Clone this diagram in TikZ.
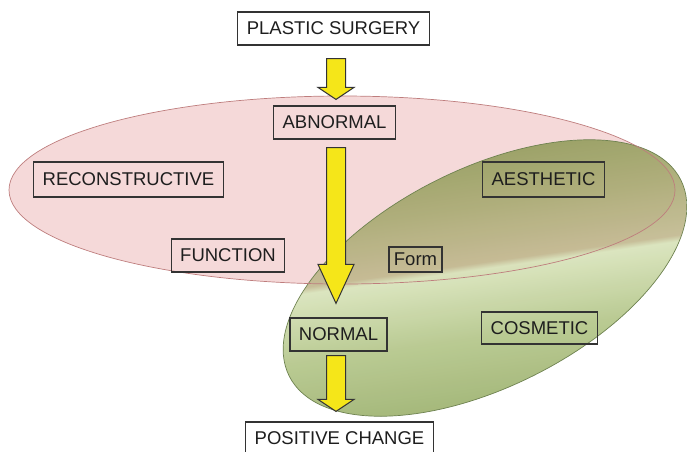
\documentclass[tikz,border=0pt]{standalone}
\usepackage{fontspec}
\setmainfont{Liberation Sans}
\usetikzlibrary{calc}
\definecolor{cink}{HTML}{1E1E1E}
\definecolor{cframe}{HTML}{333333}
\definecolor{cyellow}{HTML}{F5E619}
\definecolor{cpink}{HTML}{F5D9D9}
\definecolor{cpinklight}{HTML}{FBEFEF}
\definecolor{cpinkline}{HTML}{BE7D7D}
\definecolor{cgreentop}{HTML}{8D9957}
\definecolor{cgreenolive}{HTML}{A8AA72}
\definecolor{cgreentan}{HTML}{C2B990}
\definecolor{cgreenmid}{HTML}{D8E3BA}
\definecolor{cgreenlow}{HTML}{B4C68A}
\definecolor{cgreenbot}{HTML}{92A862}
\definecolor{cgreenline}{HTML}{6E8250}
\pgfdeclareverticalshading{greenbowl}{100bp}{color(0bp)=(cgreenbot); color(25bp)=(cgreenbot); color(41bp)=(cgreenlow); color(51.5bp)=(cgreenmid); color(52.5bp)=(cgreentan); color(62bp)=(cgreenolive); color(73bp)=(cgreentop); color(100bp)=(cgreentop)}
\tikzset{
  every picture/.style={font=\fontsize{18.5}{20}\selectfont, line width=1.2pt},
  box/.style={draw=cframe, text=cink, inner xsep=9pt, inner ysep=0pt, minimum height=33pt},
  endbox/.style={box, fill=white},
  yarrow/.style={draw=cframe, fill=cyellow, line width=1pt, line join=miter},
  field/.style={draw=#1, line width=0.7pt},
}
% block arrow, always straight down: start, tip, head length
\newcommand{\fatarrow}[3]{%
  \draw[yarrow] let \p1=(#1), \p2=(#2) in
    (\x1-9.5pt,\y1) -- (\x1+9.5pt,\y1) -- (\x1+9.5pt,\y2+#3pt) -- (\x1+18pt,\y2+#3pt)
    -- (\x1,\y2) -- (\x1-18pt,\y2+#3pt) -- (\x1-9.5pt,\y2+#3pt) -- cycle;
}
\begin{document}
\begin{tikzpicture}[x=1pt, y=-1pt]
  \useasboundingbox (0,0) rectangle (687,451);
  % the two fields
  \path[top color=cpink, middle color=cpinklight, bottom color=cpink] (342,190) ellipse[x radius=333, y radius=94];
  \path[field=cgreenline, shading=greenbowl, shading angle=8, fill opacity=0.92, rotate around={26.6:(485,278)}]
    (485,278) ellipse[x radius=219, y radius=109];
  \draw[field=cpinkline] (342,190) ellipse[x radius=333, y radius=94];
  % labels
  \node[endbox] (psurg) at (333.5,28.5) {PLASTIC SURGERY};
  \node[box] (abn) at (334.5,122.5) {ABNORMAL};
  \node[box, minimum height=35pt] (recon) at (128.5,179.5) {RECONSTRUCTIVE};
  \node[box, minimum height=35pt] (aest) at (543.5,179.5) {AESTHETIC};
  \node[box] (func) at (228,255.5) {FUNCTION};
  \node[box, minimum height=25pt, inner xsep=5pt] (form) at (415.5,259.5) {Form};
  \node[box] (norm) at (338.5,334.5) {NORMAL};
  \node[box, minimum height=32pt] (cosm) at (539.5,328) {COSMETIC};
  \node[endbox] (pos) at (339.5,438.5) {POSITIVE CHANGE};
  % yellow arrows
  \fatarrow{$(psurg.south)+(2.5,13)$}{$(abn.north)+(0,-6)$}{12}
  \fatarrow{$(abn.south)+(1.5,8)$}{$(norm.north)+(0,-14)$}{39}
  \fatarrow{$(norm.south)+(-2.5,4)$}{$(pos.north)+(0,-10)$}{12}
\end{tikzpicture}
\end{document}
